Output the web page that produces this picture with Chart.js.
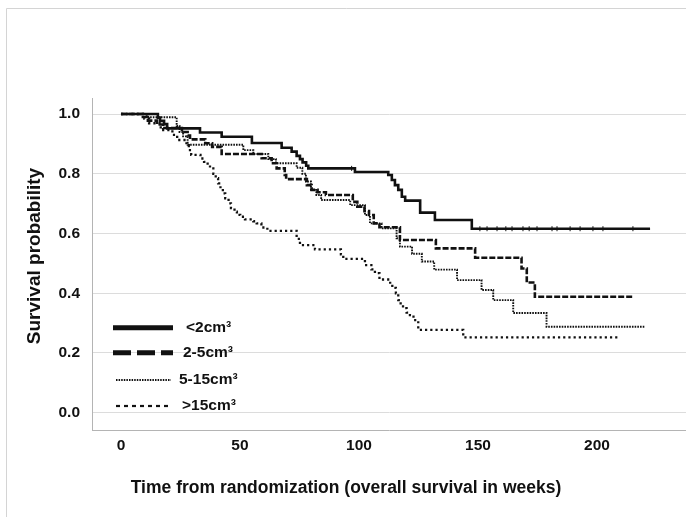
<!DOCTYPE html>
<html><head><meta charset="utf-8">
<script src="https://cdn.jsdelivr.net/npm/chart.js@4"></script>
<style>html,body{margin:0;padding:0;background:#fff}#wrap{width:686px;height:517px;position:relative}</style>
</head><body><div id="wrap"><canvas id="c" width="686" height="517"></canvas></div>
<script>
// ---- data ----
const groupLabels = ['<2cm³', '2-5cm³', '5-15cm³', '>15cm³'];
const xTicks = [0, 50, 100, 150, 200];
const yTicks = [0, 0.2, 0.4, 0.6, 0.8, 1.0];

const lt2T = [0, 15.5, 16.4, 18.1, 19.4, 33.2, 42.3, 55.0, 67.5, 71.7, 73.8, 75.2, 76.3, 77.8, 78.7, 98.3, 112.3, 113.8, 115.1, 116.5, 118.0, 119.4, 125.7, 131.9, 147.4, 222.3];
const lt2S = [1, 0.988, 0.977, 0.966, 0.952, 0.938, 0.924, 0.903, 0.887, 0.874, 0.86, 0.849, 0.838, 0.827, 0.818, 0.806, 0.796, 0.779, 0.762, 0.746, 0.723, 0.71, 0.67, 0.645, 0.616, 0.616];
const lt2CensorT = [96.9, 150.8, 153.8, 158.0, 161.7, 164.3, 168.9, 171.5, 174.8, 181.1, 183.2, 188.7, 192.9, 198.3, 202.5, 215.1];

const g2to5T = [0, 9.2, 11.3, 15.1, 17.7, 25.6, 28.0, 29.0, 35.4, 38.3, 42.3, 59.1, 63.3, 65.4, 68.8, 69.4, 78.1, 80.1, 82.6, 86.1, 97.4, 99.3, 102.3, 104.2, 106.2, 108.6, 117.2, 132.3, 148.8, 168.3, 170.5, 173.9, 215.2];
const g2to5S = [1, 0.99, 0.978, 0.965, 0.953, 0.94, 0.928, 0.915, 0.902, 0.89, 0.866, 0.852, 0.835, 0.818, 0.796, 0.782, 0.762, 0.746, 0.738, 0.729, 0.706, 0.69, 0.675, 0.662, 0.634, 0.621, 0.578, 0.55, 0.519, 0.483, 0.436, 0.388, 0.388];

const g5to15T = [0, 10.8, 23.4, 24.6, 26.1, 28.0, 51.4, 55.6, 61.9, 65.1, 73.8, 76.2, 77.7, 79.8, 82.1, 84.1, 96.3, 102.5, 104.6, 109.5, 115.8, 117.2, 122.3, 126.4, 131.6, 141.2, 151.5, 156.4, 164.8, 178.8, 220.1];
const g5to15S = [1, 0.989, 0.96, 0.94, 0.925, 0.897, 0.879, 0.866, 0.849, 0.835, 0.82, 0.8, 0.774, 0.746, 0.729, 0.712, 0.695, 0.662, 0.634, 0.617, 0.584, 0.556, 0.532, 0.506, 0.479, 0.444, 0.411, 0.377, 0.334, 0.288, 0.288];

const gt15T = [0, 9.8, 11.8, 16.7, 21.6, 23.6, 27.5, 28.5, 29.5, 33.4, 34.9, 36.4, 37.4, 38.8, 39.8, 40.8, 41.8, 42.8, 43.8, 45.2, 46.2, 47.7, 48.7, 50.1, 52.1, 55.6, 57.0, 59.0, 61.5, 73.8, 75.2, 81.5, 92.4, 93.4, 102.5, 105.2, 106.7, 108.6, 113.1, 114.0, 115.5, 116.5, 117.5, 118.5, 120.0, 121.4, 122.9, 124.9, 143.8, 209.6];
const gt15S = [1, 0.985, 0.969, 0.946, 0.93, 0.913, 0.896, 0.879, 0.863, 0.851, 0.84, 0.829, 0.818, 0.8, 0.785, 0.768, 0.751, 0.734, 0.718, 0.701, 0.685, 0.673, 0.662, 0.656, 0.647, 0.641, 0.634, 0.62, 0.609, 0.582, 0.561, 0.547, 0.53, 0.515, 0.494, 0.48, 0.467, 0.446, 0.43, 0.418, 0.4, 0.377, 0.36, 0.35, 0.335, 0.327, 0.31, 0.277, 0.252, 0.252];

const xTitle = 'Time from randomization (overall survival in weeks)';
const yTitle = 'Survival probability';

// ---- helpers ----
const pts = (T, S) => T.map((t, i) => ({x: t, y: S[i]}));
const stepAt = (T, S, t) => { let v = S[0]; for (let i = 0; i < T.length; i++) { if (T[i] <= t) v = S[i]; } return v; };

const FONT = "'Liberation Sans', Arial, sans-serif";
const INK = '#111';

const styles = [
  {width: 2.6, dash: [], lgWidth: 5, lgDash: []},
  {width: 2.6, dash: [6, 2], lgWidth: 5, lgDash: [18, 6]},
  {width: 1.9, dash: [1.6, 1.1], lgWidth: 1.8, lgDash: [1.5, 1.1]},
  {width: 2.3, dash: [2.2, 3], lgWidth: 2.2, lgDash: [4, 4]}
];
const series = [pts(lt2T, lt2S), pts(g2to5T, g2to5S), pts(g5to15T, g5to15S), pts(gt15T, gt15S)];

const datasets = series.map((d, i) => ({
  label: groupLabels[i], data: d, stepped: true, borderColor: INK,
  borderWidth: styles[i].width, borderDash: styles[i].dash, pointRadius: 0, fill: false,
  borderCapStyle: 'butt', tension: 0
}));
datasets.push({
  label: 'censored', data: lt2CensorT.map(t => ({x: t, y: stepAt(lt2T, lt2S, t)})),
  showLine: false, pointStyle: 'line', rotation: 90, pointRadius: 2.5,
  borderColor: INK, borderWidth: 1, backgroundColor: INK
});

const decor = {
  id: 'decor',
  beforeDraw(chart) {
    const ctx = chart.ctx; ctx.save();
    ctx.fillStyle = '#fff'; ctx.fillRect(0, 0, chart.width, chart.height);
    ctx.strokeStyle = '#d4d4d4'; ctx.lineWidth = 1;
    ctx.beginPath(); ctx.moveTo(6.5, 517); ctx.lineTo(6.5, 8.5); ctx.lineTo(686, 8.5); ctx.stroke();
    ctx.restore();
  },
  afterDraw(chart) {
    const ctx = chart.ctx; ctx.save();
    ctx.fillStyle = INK; ctx.textBaseline = 'middle'; ctx.textAlign = 'center';
    // x-axis title
    ctx.font = 'bold 17.5px ' + FONT;
    ctx.fillText(xTitle, 346, 488);
    // y-axis title
    ctx.save(); ctx.translate(35, 256); ctx.rotate(-Math.PI / 2);
    ctx.font = 'bold 19px ' + FONT; ctx.fillText(yTitle, 0, 0); ctx.restore();
    // legend
    const ly = [327.7, 352.7, 380, 406];
    const lx = [186, 183, 179, 182];
    ctx.font = 'bold 15.5px ' + FONT; ctx.textAlign = 'left';
    groupLabels.forEach((lab, i) => {
      ctx.beginPath(); ctx.setLineDash(styles[i].lgDash); ctx.lineWidth = styles[i].lgWidth;
      ctx.strokeStyle = INK; ctx.lineCap = 'butt';
      const x0 = i >= 2 ? 116 : 113, x1 = i >= 2 ? 171 : 173;
      ctx.moveTo(x0, ly[i]); ctx.lineTo(x1, ly[i]); ctx.stroke();
      ctx.setLineDash([]);
      ctx.fillText(lab, lx[i], ly[i]);
    });
    ctx.restore();
  }
};

new Chart(document.getElementById('c'), {
  type: 'line',
  data: {datasets},
  options: {
    responsive: false, animation: false, devicePixelRatio: 1,
    layout: {autoPadding: false, padding: {top: 98, right: 0, bottom: 0, left: 0}},
    plugins: {legend: {display: false}, tooltip: {enabled: false}},
    scales: {
      x: {
        type: 'linear', min: -12.18, max: 237.4,
        afterBuildTicks: s => { s.ticks = xTicks.map(v => ({value: v})); },
        afterFit: s => { s.height = 87; },
        grid: {display: false, drawTicks: false},
        border: {display: true, color: '#b4b4b4', width: 1},
        ticks: {color: INK, font: {family: FONT, size: 15.5, weight: 'bold'}, padding: 6, maxRotation: 0, autoSkip: false}
      },
      y: {
        type: 'linear', min: -0.0579, max: 1.0536,
        afterBuildTicks: s => { s.ticks = yTicks.map(v => ({value: v})); },
        afterFit: s => { s.width = 92; },
        grid: {color: '#dcdcdc', lineWidth: 1, drawTicks: false},
        border: {display: true, color: '#b4b4b4', width: 1},
        ticks: {color: INK, font: {family: FONT, size: 15.5, weight: 'bold'}, padding: 12,
          callback: v => Number(v).toFixed(1)}
      }
    }
  },
  plugins: [decor]
});
</script></body></html>
